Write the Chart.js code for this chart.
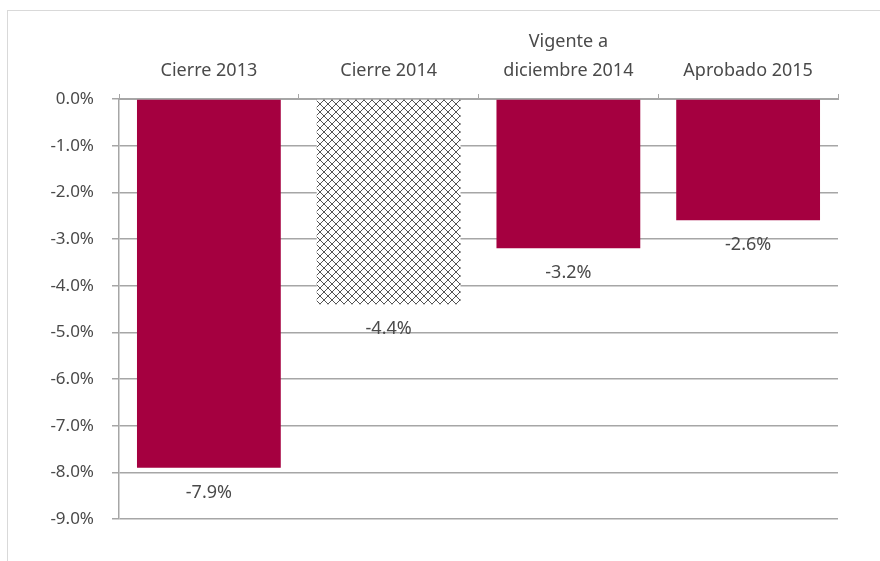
<!DOCTYPE html>
<html>
<head>
<meta charset="utf-8">
<script src="https://cdn.jsdelivr.net/npm/chart.js@4"></script>
<style>
  html, body { margin: 0; padding: 0; background: #fff; }
  #wrap { width: 880px; height: 561px; }
</style>
</head>
<body>
<div id="wrap"><canvas id="deficit"></canvas></div>
<script>
// values
const categories = ['Cierre 2013', 'Cierre 2014', ['Vigente a', 'diciembre 2014'], 'Aprobado 2015'];
const values = [-7.9, -4.4, -3.2, -2.6];
const hatched = [false, true, false, false];
const yTicks = [0, -1, -2, -3, -4, -5, -6, -7, -8, -9];

const barColor = '#a50040';
const gridColor = '#a6a6a6';
const textColor = '#4a4a4a';
const fontFamily = '"Noto Sans", "Open Sans", sans-serif';

function makeHatch() {
    const c = document.createElement('canvas');
    c.width = 8; c.height = 8;
    const g = c.getContext('2d');
    g.fillStyle = '#fff';
    g.fillRect(0, 0, 8, 8);
    g.strokeStyle = '#555';
    g.lineWidth = 1;
    g.beginPath();
    g.moveTo(0, 0); g.lineTo(8, 8);
    g.moveTo(8, 0); g.lineTo(0, 8);
    g.stroke();
    return document.createElement('canvas').getContext('2d').createPattern(c, 'repeat');
}

const hatch = makeHatch();

// outer frame like the spreadsheet chart border
const framePlugin = {
    id: 'frame',
    beforeDraw(chart) {
        const ctx = chart.ctx;
        ctx.save();
        ctx.fillStyle = '#fff';
        ctx.fillRect(0, 0, chart.width, chart.height);
        ctx.strokeStyle = '#d9d9d9';
        ctx.lineWidth = 1;
        ctx.strokeRect(7.5, 10.5, 1000, 1000);
        ctx.restore();
    }
};

// value labels under each bar
const valueLabels = {
    id: 'valueLabels',
    afterDatasetsDraw(chart) {
        const ctx = chart.ctx;
        const meta = chart.getDatasetMeta(0);
        ctx.save();
        ctx.font = '18px ' + fontFamily;
        ctx.fillStyle = textColor;
        ctx.textAlign = 'center';
        ctx.textBaseline = 'middle';
        meta.data.forEach(function (bar, i) {
            ctx.fillText(values[i].toFixed(1) + '%', bar.x, bar.y + 25);
        });
        ctx.restore();
    }
};

const data = {
    labels: categories,
    datasets: [{
        data: values,
        backgroundColor: hatched.map(h => h ? hatch : barColor),
        borderWidth: 0,
        barPercentage: 0.8,
        categoryPercentage: 1.0
    }]
};

const config = {
    type: 'bar',
    data: data,
    plugins: [framePlugin, valueLabels],
    options: {
        responsive: true,
        maintainAspectRatio: false,
        animation: false,
        layout: { padding: { left: 0, top: 0, right: 42, bottom: 42 } },
        plugins: {
            legend: { display: false },
            tooltip: { enabled: false }
        },
        scales: {
            x: {
                position: 'top',
                grid: {
                    offset: true,
                    drawOnChartArea: false,
                    drawTicks: true,
                    tickLength: 5,
                    color: gridColor
                },
                border: { color: gridColor, width: 1 },
                ticks: {
                    color: textColor,
                    font: { family: fontFamily, size: 18, lineHeight: 1.6 },
                    padding: 9,
                    maxRotation: 0
                },
                afterFit(scale) { scale.height = 99; }
            },
            y: {
                min: -9,
                max: 0,
                afterBuildTicks(scale) { scale.ticks = yTicks.map(v => ({ value: v })); },
                grid: {
                    color: gridColor,
                    tickLength: 7,
                    lineWidth: 1.5
                },
                border: { color: gridColor, width: 1.5 },
                ticks: {
                    color: textColor,
                    font: { family: fontFamily, size: 17 },
                    padding: 18,
                    callback: v => v.toFixed(1) + '%'
                },
                afterFit(scale) { scale.width = 119; }
            }
        }
    }
};

new Chart(document.getElementById('deficit'), config);
</script>
</body>
</html>
